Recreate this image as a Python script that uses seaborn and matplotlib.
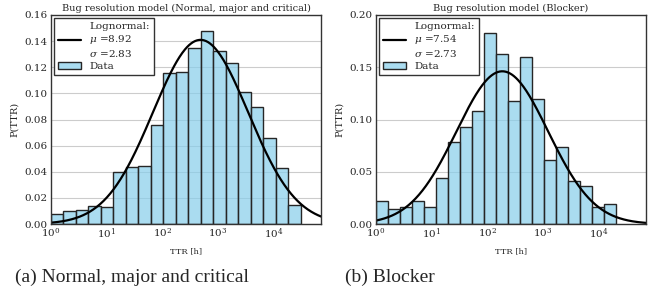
import numpy as np
import matplotlib
matplotlib.use("Agg")
import matplotlib.pyplot as plt
import seaborn as sns

# Bin heights (20 log-spaced bins each)
normal_heights = [0.0074, 0.0097, 0.0105, 0.0135, 0.0133, 0.0396, 0.0439, 0.0447, 0.0760, 0.1158,
                  0.1164, 0.1345, 0.1480, 0.1327, 0.1230, 0.1008, 0.0896, 0.0656, 0.0429, 0.0148]
blocker_heights = [0.0217, 0.0140, 0.0166, 0.0217, 0.0166, 0.0437, 0.0785, 0.0931, 0.1080, 0.1825,
                   0.1624, 0.1180, 0.1600, 0.1200, 0.0612, 0.0737, 0.0415, 0.0364, 0.0166, 0.0191]
normal_maxlog = 4.48     # log10 of the upper bin edge
blocker_maxlog = 4.31

# Lognormal fits (log2 scale)
normal_mu, normal_sigma = 8.92, 2.83
blocker_mu, blocker_sigma = 7.54, 2.73

titles = ["Bug resolution model (Normal, major and critical)", "Bug resolution model (Blocker)"]
captions = ["(a) Normal, major and critical", "(b) Blocker"]
yticks = [np.arange(0, 0.161, 0.02), np.arange(0, 0.201, 0.05)]

sns.set_style("whitegrid")
plt.rcParams['font.family'] = ['DejaVu Serif']
plt.rcParams['mathtext.fontset'] = 'dejavuserif'

fig = plt.figure(figsize=(6.57, 3.04), dpi=100)
ax1 = fig.add_axes([50.5/657, 1-224/304, 271/657, 209/304])
ax2 = fig.add_axes([375.7/657, 1-224/304, 270.5/657, 209/304])


def lognorm_curve(x, mu, sigma):
    z = (np.log2(x) - mu) / sigma
    return np.exp(-0.5*z**2) / (sigma*np.sqrt(2*np.pi))


def draw(ax, heights, maxlog, mu, sigma, title, ticks):
    edges = np.linspace(0, maxlog, len(heights)+1)
    centers = 10**((edges[:-1] + edges[1:])/2)
    sns.histplot(x=centers, weights=heights, bins=len(heights), binrange=(0, maxlog),
                 log_scale=True, stat="count", color="skyblue", alpha=0.7,
                 edgecolor="0.15", linewidth=1.0, ax=ax)
    xs = np.logspace(0, 4.85, 400)
    line, = ax.plot(xs, lognorm_curve(xs, mu, sigma), color="black", lw=1.6)
    ax.set_xlim(1, 10**4.85)
    ax.set_ylim(0, ticks[-1])
    ax.set_yticks(ticks)
    ax.set_yticklabels(["{:.2f}".format(t) for t in ticks], fontsize=7.5)
    ax.set_xticks([1, 10, 100, 1000, 10000])
    ax.set_xticklabels(["$10^{%d}$" % i for i in range(5)], fontsize=7.5)
    ax.xaxis.set_minor_locator(matplotlib.ticker.NullLocator())
    ax.tick_params(length=0, pad=2)
    ax.grid(axis="x", visible=False)
    ax.grid(axis="y", color="0.8", lw=0.8)
    for s in ax.spines.values():
        s.set_color("0.2")
        s.set_linewidth(1.0)
    ax.set_title(title, fontsize=7, pad=3)
    ax.set_xlabel("TTR [h]", fontsize=6, labelpad=4)
    ax.set_ylabel("P(TTR)", fontsize=7, labelpad=4)
    bars = ax.patches[0]
    leg = ax.legend([line, bars],
                    ["Lognormal:\n$\\mu$ =%.2f\n$\\sigma$ =%.2f" % (mu, sigma), "Data"],
                    loc="upper left", fontsize=7.5, frameon=True, fancybox=False,
                    handlelength=2.2, borderpad=0.4, labelspacing=0.3,
                    borderaxespad=0.3)
    leg.get_frame().set_edgecolor("0.2")
    leg.get_frame().set_alpha(1)


draw(ax1, normal_heights, normal_maxlog, normal_mu, normal_sigma, titles[0], yticks[0])
draw(ax2, blocker_heights, blocker_maxlog, blocker_mu, blocker_sigma, titles[1], yticks[1])

fig.text(15/657, 1-277/304, captions[0], ha="left", va="center",
         family="Liberation Serif", fontsize=14)
fig.text(345/657, 1-277/304, captions[1], ha="left", va="center",
         family="Liberation Serif", fontsize=14)

fig.savefig("out.png", dpi=100)
